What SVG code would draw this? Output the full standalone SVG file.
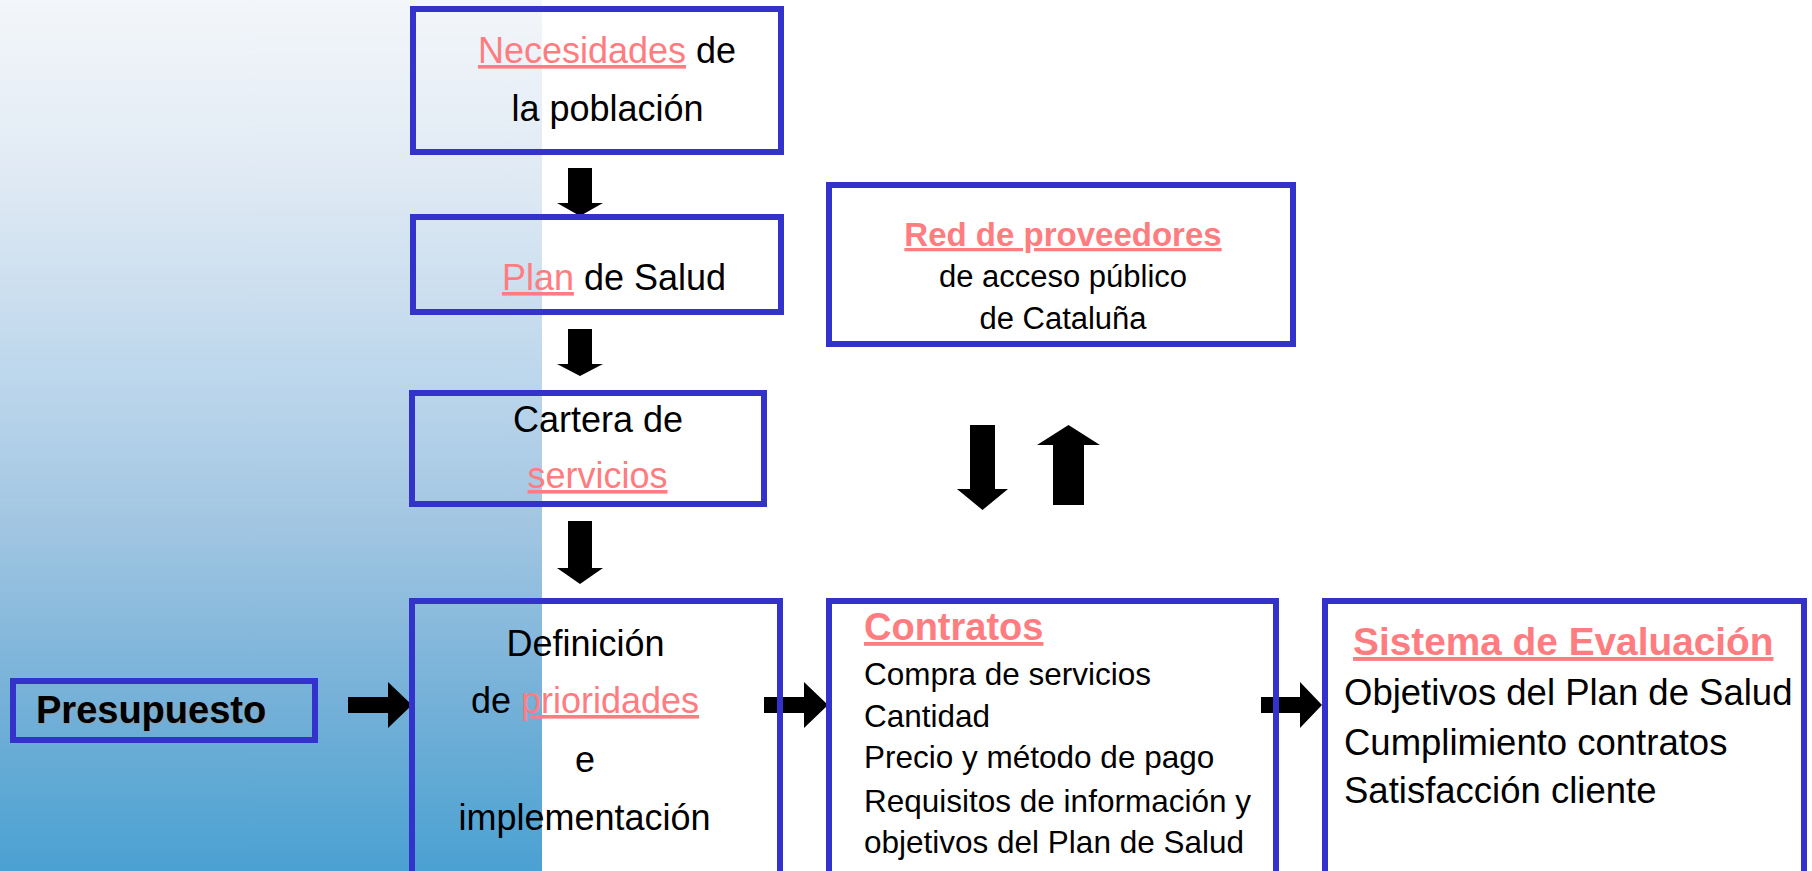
<svg xmlns="http://www.w3.org/2000/svg" width="1812" height="871" viewBox="0 0 1812 871">
<defs>
<linearGradient id="bg" x1="0" y1="0" x2="0" y2="1">
<stop offset="0" stop-color="#f3f6fa"/>
<stop offset="0.2" stop-color="#e0eaf4"/>
<stop offset="0.45" stop-color="#bad5eb"/>
<stop offset="0.6" stop-color="#a2c6e2"/>
<stop offset="0.8" stop-color="#76b1d8"/>
<stop offset="1" stop-color="#4aa1d2"/>
</linearGradient>
<style>
text{font-family:"Liberation Sans",Arial,sans-serif;fill:#000}
.box{fill:none;stroke:#3333cc;stroke-width:6}
.t36{font-size:36px}
.t31{font-size:31px}
.t315{font-size:31.5px}
.t365{font-size:36.5px}
.pk{fill:#ff7c80;text-decoration:underline}
.bpk{fill:#ff7c80;font-weight:bold;text-decoration:underline}
.arr{fill:#000}
.mid{text-anchor:middle}
</style>
</defs>
<rect x="0" y="0" width="1812" height="871" fill="#ffffff"/>
<rect x="0" y="0" width="542" height="871" fill="url(#bg)"/>

<g id="connectors">
<polygon class="arr" points="568,168 592,168 592,203 603,203 580,216 557,203 568,203"/>
<polygon class="arr" points="568,329 592,329 592,364 603,364 580,376 557,364 568,364"/>
<polygon class="arr" points="568,521 592,521 592,568 603,568 580,584 557,568 568,568"/>
<polygon class="arr" points="970,425 995,425 995,489 1008,489 982.5,510 957,489 970,489"/>
<polygon class="arr" points="1053,505 1084,505 1084,445 1100,445 1068.5,425 1037,445 1053,445"/>
<polygon class="arr" points="348,697 388,697 388,682 412,705 388,728 388,713 348,713"/>
<polygon class="arr" points="764,697 804,697 804,682 828,705 804,728 804,713 764,713"/>
<polygon class="arr" points="1261,697 1300,697 1300,682 1322,705 1300,728 1300,713 1261,713"/>
</g>

<g id="necesidades">
<rect class="box" x="413" y="9" width="368" height="143"/>
<text class="t36 mid" x="607" y="63"><tspan class="pk">Necesidades</tspan> de</text>
<text class="t36 mid" x="607.5" y="121">la población</text>
</g>

<g id="plan-salud">
<rect class="box" x="413" y="217" width="368" height="95"/>
<text class="t36 mid" x="614" y="290"><tspan class="pk">Plan</tspan> de Salud</text>
</g>

<g id="cartera">
<rect class="box" x="412" y="393" width="352" height="111"/>
<text class="t36 mid" x="598" y="432">Cartera de</text>
<text class="t36 mid" x="597.5" y="488"><tspan class="pk">servicios</tspan></text>
</g>

<g id="red-proveedores">
<rect class="box" x="829" y="185" width="464" height="159"/>
<text class="mid" x="1063" y="246" style="font-size:33px"><tspan class="bpk">Red de proveedores</tspan></text>
<text class="t31 mid" x="1063" y="287">de acceso público</text>
<text class="t31 mid" x="1063" y="329">de Cataluña</text>
</g>

<g id="presupuesto">
<rect class="box" x="13" y="681" width="302" height="59"/>
<text x="37.2" y="724.2" style="font-size:38px;font-weight:bold;fill:#9a9a9a">Presupuesto</text>
<text x="36" y="723" style="font-size:38px;font-weight:bold">Presupuesto</text>
</g>

<g id="definicion">
<rect class="box" x="412" y="601" width="368" height="300"/>
<text class="t36 mid" x="585.5" y="656">Definición</text>
<text class="t36 mid" x="585" y="713">de <tspan class="pk">prioridades</tspan></text>
<text class="t36 mid" x="585" y="772">e</text>
<text class="t36 mid" x="584.5" y="830">implementación</text>
</g>

<g id="contratos">
<rect class="box" x="829" y="601" width="447" height="300"/>
<text x="864" y="640" style="font-size:38px"><tspan class="bpk">Contratos</tspan></text>
<text class="t315" x="864" y="685">Compra de servicios</text>
<text class="t315" x="864" y="727">Cantidad</text>
<text class="t315" x="864" y="768">Precio y método de pago</text>
<text class="t315" x="864" y="812">Requisitos de información y</text>
<text class="t315" x="864" y="853">objetivos del Plan de Salud</text>
</g>

<g id="sistema-evaluacion">
<rect class="box" x="1325" y="601" width="479" height="300"/>
<text x="1353" y="655" style="font-size:38.8px"><tspan class="bpk">Sistema de Evaluación</tspan></text>
<text class="t365" x="1344" y="705">Objetivos del Plan de Salud</text>
<text class="t365" x="1344" y="755">Cumplimiento contratos</text>
<text class="t365" x="1344" y="803">Satisfacción cliente</text>
</g>
</svg>
